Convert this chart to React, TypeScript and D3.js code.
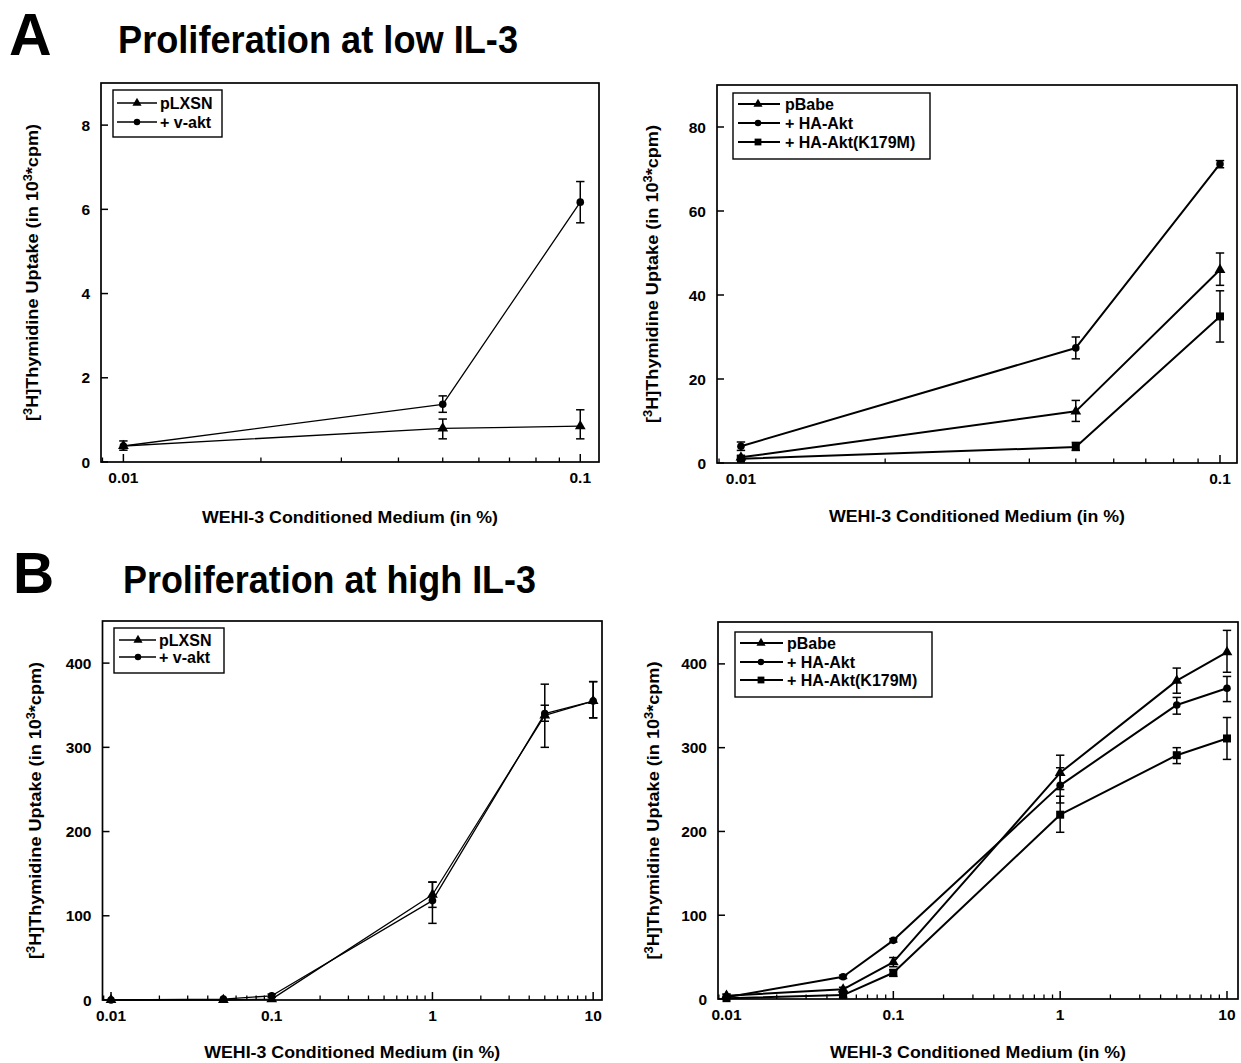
import React from 'react';
import * as d3 from 'd3';

// ---------- DATA ----------
const lowX = [0.01, 0.05, 0.1];
const highX = [0.01, 0.05, 0.1, 1, 5, 10];

// A left
const aLeftPLXSN = [0.38, 0.8, 0.85];
const aLeftPLXSNLo = [0.38, 0.55, 0.55];
const aLeftPLXSNHi = [0.38, 1.02, 1.24];
const aLeftVAkt = [0.38, 1.37, 6.17];
const aLeftVAktLo = [0.28, 1.18, 5.68];
const aLeftVAktHi = [0.5, 1.57, 6.66];

// A right
const aRightPBabe = [1.35, 12.3, 46];
const aRightPBabeLo = [0.9, 9.9, 42.3];
const aRightPBabeHi = [1.8, 14.9, 50];
const aRightHAAkt = [4.0, 27.4, 71.2];
const aRightHAAktLo = [3.0, 24.8, 70.3];
const aRightHAAktHi = [5.0, 30, 72];
const aRightK179M = [1.0, 3.8, 34.9];
const aRightK179MLo = [0.6, 3.0, 28.8];
const aRightK179MHi = [1.4, 4.9, 41];

// B left
const bLeftPLXSN = [0, 0, 1, 125, 338, 355];
const bLeftPLXSNLo = [0, 0, 0, 110, 331, 335];
const bLeftPLXSNHi = [0, 0, 2, 140, 350, 378];
const bLeftVAkt = [0, 1, 5, 118, 340, 355];
const bLeftVAktLo = [0, 0, 3, 91, 300, 335];
const bLeftVAktHi = [1, 2, 7, 140, 375, 378];

// B right
const bRightPBabe = [4, 11.5, 44, 270, 380, 414];
const bRightPBabeLo = [2, 9, 38.5, 250, 365, 390];
const bRightPBabeHi = [6, 14, 49.5, 291, 395, 440];
const bRightHAAkt = [2, 26.6, 70, 255, 351, 371];
const bRightHAAktLo = [1, 24.5, 68, 234, 340, 355];
const bRightHAAktHi = [3, 28.5, 72, 276, 360, 385];
const bRightK179M = [1, 4.7, 31.3, 220, 291, 311];
const bRightK179MLo = [0, 2, 27, 199, 281, 286];
const bRightK179MHi = [2, 7, 35, 242, 300, 336];

const lowXTicks = [0.01, 0.1];
const lowXTickLabels = ['0.01', '0.1'];
const highXTicks = [0.01, 0.1, 1, 10];
const highXTickLabels = ['0.01', '0.1', '1', '10'];
const aLeftYTicks = [0, 2, 4, 6, 8];
const aRightYTicks = [0, 20, 40, 60, 80];
const bYTicks = [0, 100, 200, 300, 400];

const nameP = 'pLXSN';
const nameV = '+ v-akt';
const nameB = 'pBabe';
const nameH = '+ HA-Akt';
const nameK = '+ HA-Akt(K179M)';

// ---------- TYPES ----------
type Sym = 'triangle' | 'circle' | 'square';
type Series = { name: string; sym: Sym; y: number[]; lo: number[]; hi: number[] };
type PanelCfg = {
  left: number; right: number; top: number; bottom: number;
  xLog: [number, number]; yMax: number;
  xs: number[]; xTicks: number[]; xTickLabels: string[]; yTicks: number[];
  series: Series[];
  lineW: number;
  legend: { x0: number; y0: number; x1: number; y1: number; rows: number[]; s0: number; s1: number; m: number; tx: number };
  yLabelX: number; xLabelY: number; labelLen: number;
};

const FONT = 'Arial, "Liberation Sans", Helvetica, sans-serif';

function Marker({ sym, x, y, s = 1 }: { sym: Sym; x: number; y: number; s?: number }) {
  if (sym === 'circle') return <circle cx={x} cy={y} r={3.8 * s} fill="#000" />;
  if (sym === 'square') return <rect x={x - 4 * s} y={y - 4 * s} width={8 * s} height={8 * s} fill="#000" />;
  const p = d3.symbol().type(d3.symbolTriangle).size(50 * s * s)() as string;
  return <path d={p} transform={`translate(${x},${y})`} fill="#000" />;
}

function Panel({ p }: { p: PanelCfg }) {
  const x = d3.scaleLog().domain([Math.pow(10, p.xLog[0]), Math.pow(10, p.xLog[1])]).range([p.left, p.right]);
  const y = d3.scaleLinear().domain([0, p.yMax]).range([p.bottom, p.top]);
  const line = d3.line<number>().x((_, i) => x(p.xs[i])).y((d) => y(d));
  const minors: number[] = [];
  for (let k = Math.floor(p.xLog[0]); k <= Math.ceil(p.xLog[1]); k++) {
    for (let m = 2; m <= 9; m++) {
      const v = m * Math.pow(10, k);
      const lv = Math.log10(v);
      if (lv > p.xLog[0] && lv < p.xLog[1]) minors.push(v);
    }
  }
  const cx = (p.left + p.right) / 2;
  const cy = (p.top + p.bottom) / 2;
  const L = p.legend;
  return (
    <g>
      {p.series.map((s) => (
        <path key={s.name} d={line(s.y) as string} fill="none" stroke="#000" strokeWidth={p.lineW} strokeLinejoin="round" />
      ))}
      {p.series.map((s) =>
        s.y.map((_, i) => {
          const xx = x(p.xs[i]);
          const yl = y(s.lo[i]);
          const yh = y(s.hi[i]);
          if (Math.abs(yl - yh) < 2) return null;
          return (
            <g key={s.name + 'e' + i} stroke="#000" strokeWidth={1.5}>
              <line x1={xx} x2={xx} y1={yl} y2={yh} />
              <line x1={xx - 4.2} x2={xx + 4.2} y1={yl} y2={yl} />
              <line x1={xx - 4.2} x2={xx + 4.2} y1={yh} y2={yh} />
            </g>
          );
        })
      )}
      {p.series.map((s) =>
        s.y.map((v, i) => <Marker key={s.name + 'm' + i} sym={s.sym} x={x(p.xs[i])} y={y(v)} />)
      )}
      <rect x={p.left} y={p.top} width={p.right - p.left} height={p.bottom - p.top} fill="none" stroke="#000" strokeWidth={1.7} />
      {p.yTicks.map((t) => (
        <g key={'yt' + t}>
          <line x1={p.left} x2={p.left + 7} y1={y(t)} y2={y(t)} stroke="#000" strokeWidth={1.5} />
          <text x={p.left - 11} y={y(t) + 5.5} textAnchor="end" fontSize={15.5} fontWeight="bold" fontFamily={FONT}>{t}</text>
        </g>
      ))}
      {p.xTicks.map((t, i) => (
        <g key={'xt' + t}>
          <line x1={x(t)} x2={x(t)} y1={p.bottom} y2={p.bottom - 8} stroke="#000" strokeWidth={1.5} />
          <text x={x(t)} y={p.bottom + 21} textAnchor="middle" fontSize={15.5} fontWeight="bold" fontFamily={FONT}>{p.xTickLabels[i]}</text>
        </g>
      ))}
      {minors.map((t) => (
        <line key={'mt' + t} x1={x(t)} x2={x(t)} y1={p.bottom} y2={p.bottom - 4.5} stroke="#000" strokeWidth={1.3} />
      ))}
      <text x={cx} y={p.xLabelY} textAnchor="middle" fontSize={17} fontWeight="bold" fontFamily={FONT} textLength={296} lengthAdjust="spacingAndGlyphs">
        WEHI-3 Conditioned Medium (in %)
      </text>
      <text transform={`translate(${p.yLabelX},${cy}) rotate(-90)`} textAnchor="middle" fontSize={17} fontWeight="bold" fontFamily={FONT} textLength={p.labelLen} lengthAdjust="spacingAndGlyphs">
        [<tspan fontSize={12} dy={-6}>3</tspan><tspan dy={6}>H]Thymidine Uptake (in 10</tspan><tspan fontSize={12} dy={-6}>3</tspan><tspan dy={6}>*cpm)</tspan>
      </text>
      <rect x={L.x0} y={L.y0} width={L.x1 - L.x0} height={L.y1 - L.y0} fill="#fff" stroke="#000" strokeWidth={1.4} />
      {p.series.map((s, i) => (
        <g key={'lg' + s.name}>
          <line x1={L.s0} x2={L.s1} y1={L.rows[i]} y2={L.rows[i]} stroke="#000" strokeWidth={p.lineW} />
          <Marker sym={s.sym} x={L.m} y={L.rows[i]} s={0.85} />
          <text x={L.tx} y={L.rows[i] + 5.5} fontSize={16} fontWeight="bold" fontFamily={FONT}>{s.name}</text>
        </g>
      ))}
    </g>
  );
}

const panels: PanelCfg[] = [
  {
    left: 101, right: 599, top: 83, bottom: 462, xLog: [-2.049, -0.959], yMax: 9,
    xs: lowX, xTicks: lowXTicks, xTickLabels: lowXTickLabels, yTicks: aLeftYTicks, lineW: 1.3,
    series: [
      { name: nameP, sym: 'triangle', y: aLeftPLXSN, lo: aLeftPLXSNLo, hi: aLeftPLXSNHi },
      { name: nameV, sym: 'circle', y: aLeftVAkt, lo: aLeftVAktLo, hi: aLeftVAktHi },
    ],
    legend: { x0: 113, y0: 90, x1: 222, y1: 137, rows: [103, 122], s0: 117, s1: 157, m: 137, tx: 160 },
    yLabelX: 38, xLabelY: 523, labelLen: 297,
  },
  {
    left: 717, right: 1237, top: 85, bottom: 463, xLog: [-2.05, -0.9645], yMax: 90,
    xs: lowX, xTicks: lowXTicks, xTickLabels: lowXTickLabels, yTicks: aRightYTicks, lineW: 2,
    series: [
      { name: nameB, sym: 'triangle', y: aRightPBabe, lo: aRightPBabeLo, hi: aRightPBabeHi },
      { name: nameH, sym: 'circle', y: aRightHAAkt, lo: aRightHAAktLo, hi: aRightHAAktHi },
      { name: nameK, sym: 'square', y: aRightK179M, lo: aRightK179MLo, hi: aRightK179MHi },
    ],
    legend: { x0: 733, y0: 93, x1: 930, y1: 159, rows: [104, 123, 142], s0: 738, s1: 780, m: 758, tx: 785 },
    yLabelX: 658, xLabelY: 522, labelLen: 298,
  },
  {
    left: 102.5, right: 602, top: 621, bottom: 1000, xLog: [-2.053, 1.055], yMax: 450,
    xs: highX, xTicks: highXTicks, xTickLabels: highXTickLabels, yTicks: bYTicks, lineW: 1.3,
    series: [
      { name: nameP, sym: 'triangle', y: bLeftPLXSN, lo: bLeftPLXSNLo, hi: bLeftPLXSNHi },
      { name: nameV, sym: 'circle', y: bLeftVAkt, lo: bLeftVAktLo, hi: bLeftVAktHi },
    ],
    legend: { x0: 114, y0: 628, x1: 224, y1: 673, rows: [640, 657], s0: 119, s1: 156, m: 138, tx: 159 },
    yLabelX: 41, xLabelY: 1058, labelLen: 297,
  },
  {
    left: 718, right: 1238, top: 622, bottom: 999, xLog: [-2.051, 1.066], yMax: 450,
    xs: highX, xTicks: highXTicks, xTickLabels: highXTickLabels, yTicks: bYTicks, lineW: 2,
    series: [
      { name: nameB, sym: 'triangle', y: bRightPBabe, lo: bRightPBabeLo, hi: bRightPBabeHi },
      { name: nameH, sym: 'circle', y: bRightHAAkt, lo: bRightHAAktLo, hi: bRightHAAktHi },
      { name: nameK, sym: 'square', y: bRightK179M, lo: bRightK179MLo, hi: bRightK179MHi },
    ],
    legend: { x0: 735, y0: 632, x1: 932, y1: 697, rows: [643, 662, 680], s0: 740, s1: 783, m: 761, tx: 787 },
    yLabelX: 659, xLabelY: 1058, labelLen: 298,
  },
];

export default function App() {
  return (
    <svg width={1241} height={1063} viewBox="0 0 1241 1063" style={{ position: 'absolute', left: 0, top: 0, background: '#fff' }}>
      <rect x={0} y={0} width={1241} height={1063} fill="#fff" />
      <text x={9} y={55} fontSize={59} fontWeight="bold" fontFamily={FONT}>A</text>
      <text x={118} y={53} fontSize={38} fontWeight="bold" fontFamily={FONT} textLength={400} lengthAdjust="spacingAndGlyphs">Proliferation at low IL-3</text>
      <text x={13} y={593} fontSize={57} fontWeight="bold" fontFamily={FONT}>B</text>
      <text x={123} y={593} fontSize={38} fontWeight="bold" fontFamily={FONT} textLength={413} lengthAdjust="spacingAndGlyphs">Proliferation at high IL-3</text>
      {panels.map((p, i) => <Panel key={i} p={p} />)}
    </svg>
  );
}
